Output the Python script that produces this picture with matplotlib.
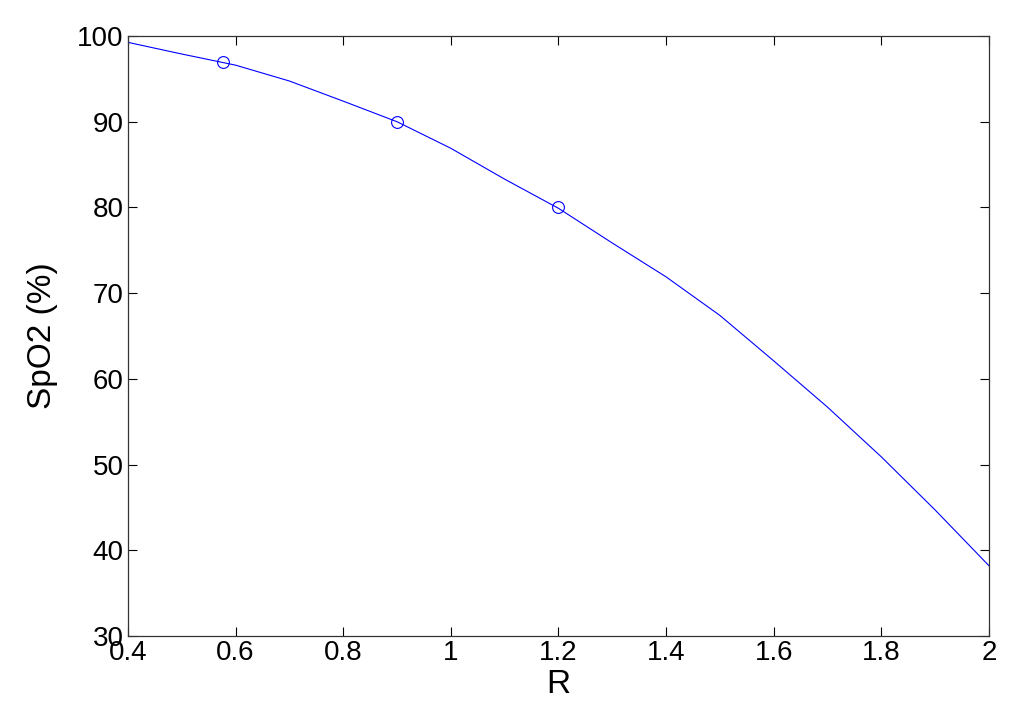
import matplotlib
matplotlib.use('Agg')
import matplotlib.pyplot as plt

# calibration curve (sampled every 0.1) and measured points
R_CURVE = [0.4, 0.5, 0.6, 0.7, 0.8, 0.9, 1.0, 1.1, 1.2, 1.3, 1.4, 1.5, 1.6, 1.7, 1.8, 1.9, 2.0]
SPO2_CURVE = [99.26, 97.9, 96.6, 94.75, 92.4, 90.0, 86.9, 83.3, 79.9, 75.85, 71.9, 67.4,
              62.1, 56.7, 50.9, 44.7, 38.2]
R_POINTS = [0.576, 0.9, 1.2]
SPO2_POINTS = [97, 90, 80]

XTICKS = [0.4, 0.6, 0.8, 1.0, 1.2, 1.4, 1.6, 1.8, 2.0]
XTICKLABELS = ['0.4', '0.6', '0.8', '1', '1.2', '1.4', '1.6', '1.8', '2']
YTICKS = [30, 40, 50, 60, 70, 80, 90, 100]

plt.rcParams['font.family'] = ['Liberation Sans', 'DejaVu Sans']

fig = plt.figure(figsize=(10.24, 7.19), dpi=100)
ax = fig.add_axes([0.125, 0.1154, 0.8408, 0.8345])

ax.plot(R_CURVE, SPO2_CURVE, color='#0000ff', lw=0.8)
ax.plot(R_POINTS, SPO2_POINTS, 'o', color='#0000ff', mfc='none', ms=8.5, mew=0.8)

ax.set_xlim(0.4, 2)
ax.set_ylim(30, 100)
ax.set_xticks(XTICKS)
ax.set_xticklabels(XTICKLABELS)
ax.set_yticks(YTICKS)
ax.tick_params(direction='in', top=True, right=True, length=6.5, width=0.8,
               labelsize=20, pad=3, colors='#000000')
for s in ax.spines.values():
    s.set_color('#333333')
    s.set_linewidth(0.9)

ax.set_xlabel('R', fontsize=24, labelpad=2)
ax.set_ylabel('SpO2 (%)', fontsize=24, labelpad=14)

fig.savefig('out.png', dpi=100)
